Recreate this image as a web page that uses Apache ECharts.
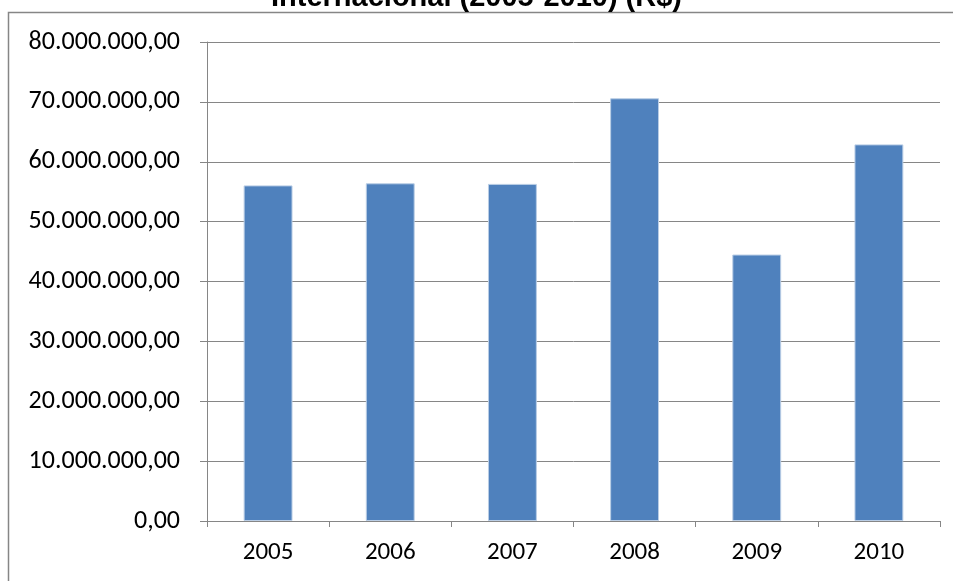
<!DOCTYPE html>
<html>
<head>
<meta charset="utf-8">
<script src="https://cdn.jsdelivr.net/npm/echarts@6/dist/echarts.min.js"></script>
<style>
  html, body { margin: 0; padding: 0; background: #fff; }
  #chart { width: 953px; height: 581px; }
</style>
</head>
<body>
<div id="chart"></div>
<script>
// Annual amounts, R$
const years = ['2005', '2006', '2007', '2008', '2009', '2010'];
const amounts = [56050000, 56400000, 56300000, 70600000, 44500000, 62900000];
const titleText = 'Internacional (2005-2010) (R$)';

// Brazilian number format: 80.000.000,00
function formatBRL(v) {
  const parts = Number(v).toFixed(2).split('.');
  const intPart = parts[0].replace(/\B(?=(\d{3})+(?!\d))/g, '.');
  return intPart + ',' + parts[1];
}

const labelFont = "Carlito, Calibri, 'Liberation Sans', Arial, sans-serif";
const gray = '#868686';

const chart = echarts.init(document.getElementById('chart'), null, { renderer: 'canvas' });
chart.setOption({
  backgroundColor: '#ffffff',
  animation: false,
  title: {
    text: titleText,
    left: 'center',
    top: -22,
    textStyle: {
      fontFamily: "'Liberation Sans', Arial, sans-serif",
      fontWeight: 'bold',
      fontSize: 29,
      color: '#000'
    }
  },
  graphic: [{
    type: 'rect',
    shape: { x: 8.5, y: 12.5, width: 1000, height: 1000 },
    style: { fill: 'none', stroke: gray, lineWidth: 1.5 },
    silent: true,
    z: -1
  }],
  grid: { left: 207, right: 13, top: 42, bottom: 60, containLabel: false },
  xAxis: {
    type: 'category',
    data: years,
    axisLine: { show: true, lineStyle: { color: gray, width: 1 } },
    axisTick: { show: true, alignWithLabel: false, length: 6, lineStyle: { color: gray } },
    axisLabel: { color: '#000', fontFamily: labelFont, fontSize: 25, margin: 19 },
    splitLine: { show: false }
  },
  yAxis: {
    type: 'value',
    min: 0,
    max: 80000000,
    interval: 10000000,
    axisLine: { show: true, lineStyle: { color: gray, width: 1 } },
    axisTick: { show: true, length: 7, lineStyle: { color: gray } },
    axisLabel: { color: '#000', fontFamily: labelFont, fontSize: 26, margin: 27, formatter: formatBRL },
    splitLine: { show: true, lineStyle: { color: gray, width: 1 } }
  },
  series: [{
    type: 'bar',
    data: amounts,
    barWidth: '40%',
    itemStyle: { color: '#4F81BD', borderColor: '#b9cde5', borderWidth: 1 }
  }]
});
</script>
</body>
</html>
